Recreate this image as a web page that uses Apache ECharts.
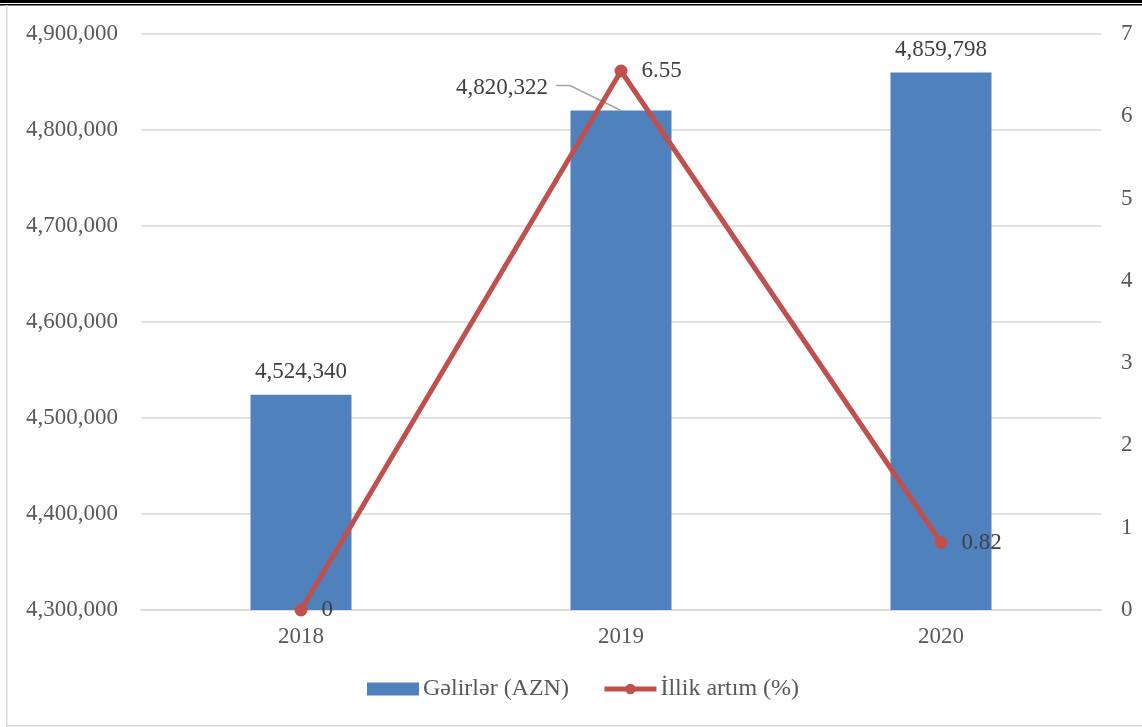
<!DOCTYPE html>
<html>
<head>
<meta charset="utf-8">
<script src="https://cdn.jsdelivr.net/npm/echarts@6/dist/echarts.min.js"></script>
<style>
html,body{margin:0;padding:0;background:#fff;}
#chart{width:1142px;height:727px;}
</style>
</head>
<body>
<div id="chart"></div>
<script>
const categories = ['2018', '2019', '2020'];
const revenue = [4524340, 4820322, 4859798];
const growth = [0, 6.55, 0.82];
const revenueName = 'Gəlirlər (AZN)';
const growthName = 'İllik artım (%)';

const FONT = '"Liberation Serif", "Times New Roman", serif';
const FS = 23;
const chart = echarts.init(document.getElementById('chart'));

function fmt(v){ return Number(v).toLocaleString('en-US'); }

chart.setOption({
  backgroundColor: '#ffffff',
  animation: false,
  textStyle: { fontFamily: FONT },
  graphic: [
    { type: 'rect', shape: { x: 0, y: 0, width: 1142, height: 3 }, style: { fill: '#000' } },
    { type: 'rect', shape: { x: 0, y: 4, width: 1142, height: 1.5 }, style: { fill: '#000' } },
    { type: 'rect', shape: { x: 6, y: 5, width: 1.5, height: 722 }, style: { fill: '#d9d9d9' } },
    { type: 'rect', shape: { x: 6, y: 725, width: 1136, height: 1.5 }, style: { fill: '#d9d9d9' } }
  ],
  legend: {
    bottom: 21,
    left: 362,
    itemGap: 33,
    itemWidth: 52,
    itemHeight: 13,
    textStyle: { fontFamily: FONT, fontSize: 24, color: '#595959', padding: [0, 0, 0, -1] },
    data: [
      { name: revenueName, icon: 'rect' },
      { name: growthName, lineStyle: { width: 5 } }
    ]
  },
  grid: { left: 141, right: 41, top: 34, bottom: 117 },
  xAxis: {
    type: 'category',
    data: categories,
    axisLine: { show: true, lineStyle: { color: '#d9d9d9', width: 1.5 } },
    axisTick: { show: false },
    axisLabel: { fontFamily: FONT, fontSize: FS, color: '#595959', margin: 15 }
  },
  yAxis: [
    {
      type: 'value', min: 4300000, max: 4900000, interval: 100000,
      axisLine: { show: false }, axisTick: { show: false },
      splitLine: { lineStyle: { color: '#d9d9d9', width: 1.5 } },
      axisLabel: { fontFamily: FONT, fontSize: FS, color: '#595959', margin: 23, formatter: v => fmt(v) }
    },
    {
      type: 'value', min: 0, max: 7, interval: 1, position: 'right',
      axisLine: { show: false }, axisTick: { show: false },
      splitLine: { show: false },
      axisLabel: { fontFamily: FONT, fontSize: FS, color: '#595959', margin: 20 }
    }
  ],
  series: [
    {
      name: revenueName,
      type: 'bar',
      yAxisIndex: 0,
      barWidth: 101,
      itemStyle: { color: '#4F81BD' },
      data: revenue,
      label: {
        show: true, position: 'top', distance: 11,
        fontFamily: FONT, fontSize: FS, color: '#404040',
        formatter: p => fmt(p.value)
      },
      labelLayout: function (params) {
        if (params.dataIndex === 1) return { dx: -119, dy: 0 };
        return {};
      }
    },
    {
      name: 'leader',
      type: 'custom',
      yAxisIndex: 0,
      silent: true,
      z: 3,
      data: [[1, revenue[1]]],
      renderItem: function (params, api) {
        const p = api.coord([api.value(0), api.value(1)]);
        return {
          type: 'polyline',
          shape: { points: [[p[0] - 65, p[1] - 25], [p[0] - 51, p[1] - 25], [p[0], p[1]]] },
          style: { stroke: '#a6a6a6', lineWidth: 1.5, fill: null }
        };
      }
    },
    {
      name: growthName,
      type: 'line',
      yAxisIndex: 1,
      data: growth,
      symbol: 'circle',
      symbolSize: 13,
      lineStyle: { color: '#C0504D', width: 5 },
      itemStyle: { color: '#C0504D' },
      label: {
        show: true, position: 'right', distance: 14,
        fontFamily: FONT, fontSize: FS, color: '#404040'
      },
      z: 5
    }
  ]
});
</script>
</body>
</html>
